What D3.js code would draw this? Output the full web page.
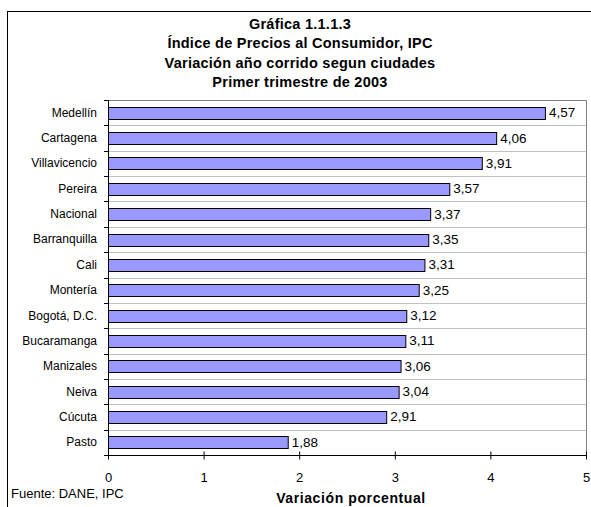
<!DOCTYPE html>
<meta charset="UTF-8">
<head>
  <script src="https://d3js.org/d3.v7.min.js"></script>
  <style>
    body { margin: 0; background: #fff; }
    text { font-family: "Liberation Sans", Arial, sans-serif; fill: #000; }
  </style>
</head>
<body>
  <svg id="svg" width="591" height="507"></svg>
  <script>
    // data
    const cities = ["Medellín", "Cartagena", "Villavicencio", "Pereira", "Nacional", "Barranquilla",
      "Cali", "Montería", "Bogotá, D.C.", "Bucaramanga", "Manizales", "Neiva", "Cúcuta", "Pasto"];
    const values = [4.57, 4.06, 3.91, 3.57, 3.37, 3.35, 3.31, 3.25, 3.12, 3.11, 3.06, 3.04, 2.91, 1.88];
    const xTicks = [0, 1, 2, 3, 4, 5];
    const titleLines = ["Gráfica 1.1.1.3", "Índice de Precios al Consumidor, IPC",
      "Variación año corrido segun ciudades", "Primer trimestre de 2003"];

    const svg = d3.select("#svg");
    const pLeft = 108, pRight = 586, pTop = 100, pBottom = 455;

    // outer frame (right/bottom edges fall outside the picture)
    svg.append("rect").attr("x", 7.5).attr("y", 11.5).attr("width", 600).attr("height", 520)
      .attr("fill", "none").attr("stroke", "#000").attr("stroke-width", 1);

    svg.selectAll(".title").data(titleLines).enter().append("text")
      .attr("x", 300).attr("y", (d, i) => 29 + i * 19.3)
      .attr("text-anchor", "middle").attr("font-size", "14.5px").attr("font-weight", "bold")
      .attr("letter-spacing", "0.25px")
      .text(d => d);

    const x = d3.scaleLinear().domain([0, 5]).range([pLeft, pRight]);
    const y = d3.scaleBand().domain(cities).range([pTop, pBottom]).paddingInner(0.53).paddingOuter(0.265);
    const yStep = d3.scaleBand().domain(cities).range([pTop, pBottom]);

    // gridlines at band boundaries
    const bounds = cities.map(c => yStep(c)).concat([pBottom]);
    svg.selectAll(".grid").data(bounds.slice(1, -1)).enter().append("line")
      .attr("x1", pLeft).attr("x2", pRight)
      .attr("y1", d => Math.round(d) + 0.5).attr("y2", d => Math.round(d) + 0.5)
      .attr("stroke", "#c0c0c0");

    // plot border top/right
    svg.append("path")
      .attr("d", `M${pLeft},${pTop + 0.5}H${pRight + 0.5}V${pBottom}`)
      .attr("fill", "none").attr("stroke", "#808080");

    // bars
    svg.selectAll(".bar").data(values).enter().append("rect")
      .attr("x", x(0) + 0.5)
      .attr("y", (d, i) => Math.round(y(cities[i])) + 0.5)
      .attr("width", d => x(d) - x(0))
      .attr("height", Math.round(y.bandwidth()))
      .attr("fill", "#9999ff").attr("stroke", "#000").attr("stroke-width", 1);

    // value labels
    svg.selectAll(".val").data(values).enter().append("text")
      .attr("x", d => x(d) + 4)
      .attr("y", (d, i) => yStep(cities[i]) + yStep.bandwidth() / 2 + 4.5)
      .attr("font-size", "13.5px")
      .text(d => d3.format(".2f")(d).replace(".", ","));

    // left axis: line + ticks at boundaries
    svg.append("line").attr("x1", pLeft + 0.5).attr("x2", pLeft + 0.5).attr("y1", pTop).attr("y2", pBottom + 4)
      .attr("stroke", "#000");
    svg.selectAll(".ytick").data(bounds).enter().append("line")
      .attr("x1", pLeft - 4).attr("x2", pLeft)
      .attr("y1", d => Math.round(d) + 0.5).attr("y2", d => Math.round(d) + 0.5)
      .attr("stroke", "#000");
    svg.selectAll(".cat").data(cities).enter().append("text")
      .attr("x", 97).attr("y", d => yStep(d) + yStep.bandwidth() / 2 + 4)
      .attr("text-anchor", "end").attr("font-size", "12px")
      .text(d => d);

    // bottom axis
    const xAxis = d3.axisBottom(x).tickValues(xTicks).tickSize(4).tickFormat(d3.format("d"));
    const gx = svg.append("g").attr("transform", `translate(0,${pBottom + 0.5})`).call(xAxis);
    gx.select(".domain").attr("stroke", "#000").attr("d", `M${pLeft - 4},0H${pRight + 0.5}`);
    gx.selectAll(".tick line").attr("y1", -4).attr("y2", 4).attr("stroke", "#000");
    gx.selectAll(".tick text").attr("y", 17).attr("font-size", "13px")
      .attr("font-family", "'Liberation Sans', Arial, sans-serif").attr("fill", "#000");

    svg.append("text").attr("x", 351).attr("y", 503).attr("text-anchor", "middle")
      .attr("font-size", "14px").attr("font-weight", "bold").attr("letter-spacing", "0.6px")
      .text("Variación porcentual");
    svg.append("text").attr("x", 11).attr("y", 498).attr("font-size", "13px").text("Fuente: DANE, IPC");
  </script>
</body>
